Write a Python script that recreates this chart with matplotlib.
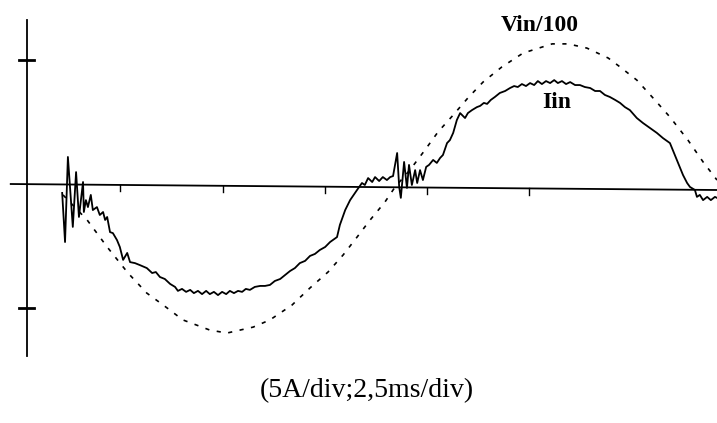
import matplotlib
matplotlib.use("Agg")
import matplotlib.pyplot as plt

# ---- data (time in ms, values in A; 5 A/div, 2.5 ms/div)
iin_t = [1.08, 1.15, 1.22, 1.34, 1.42, 1.49, 1.59, 1.61, 1.66, 1.71, 1.78, 1.83, 1.93, 2.00,
         2.08, 2.13, 2.18, 2.25, 2.32, 2.42, 2.49, 2.57, 2.67, 2.74, 2.86, 2.98, 3.15, 3.28,
         3.37, 3.47, 3.59, 3.72, 3.84, 3.91, 4.01, 4.11, 4.21, 4.30, 4.40, 4.50, 4.60, 4.69,
         4.79, 4.89, 4.99, 5.09, 5.18, 5.28, 5.38, 5.48, 5.57, 5.67, 5.79, 5.92, 6.04, 6.16,
         6.28, 6.41, 6.53, 6.65, 6.77, 6.89, 7.02, 7.14, 7.26, 7.38, 7.51, 7.63, 7.80, 7.87,
         8.00, 8.12, 8.29, 8.41, 8.48, 8.56, 8.66, 8.73, 8.83, 8.92, 9.02, 9.10, 9.17, 9.27,
         9.32, 9.36, 9.44, 9.51, 9.56, 9.63, 9.71, 9.76, 9.83, 9.90, 9.98, 10.05, 10.15, 10.24,
         10.32, 10.39, 10.49, 10.56, 10.64, 10.73, 10.81, 10.93, 11.00, 11.10, 11.22, 11.30,
         11.39, 11.47, 11.56, 11.66, 11.78, 11.91, 12.03, 12.13, 12.22, 12.32, 12.42, 12.52,
         12.62, 12.71, 12.81, 12.91, 13.01, 13.11, 13.20, 13.30, 13.40, 13.50, 13.62, 13.74,
         13.86, 13.99, 14.11, 14.23, 14.35, 14.47, 14.60, 14.72, 14.84, 14.96, 15.13, 15.28,
         15.45, 15.62, 15.77, 15.94, 16.01, 16.11, 16.19, 16.26, 16.36, 16.43, 16.55, 16.60,
         16.67, 16.75, 16.85, 16.94, 17.04, 17.09]
iin_a = [-0.36, -2.34, 1.09, -1.73, 0.48, -1.33, 0.08, -1.13, -0.65, -0.93, -0.44, -1.05, -0.93,
         -1.25, -1.13, -1.45, -1.33, -1.94, -1.98, -2.26, -2.54, -3.06, -2.78, -3.15, -3.19,
         -3.27, -3.39, -3.59, -3.55, -3.75, -3.83, -4.03, -4.15, -4.31, -4.23, -4.35, -4.27,
         -4.40, -4.31, -4.44, -4.31, -4.44, -4.35, -4.48, -4.35, -4.44, -4.31, -4.40, -4.31,
         -4.35, -4.23, -4.27, -4.15, -4.11, -4.11, -4.07, -3.91, -3.83, -3.67, -3.51, -3.39,
         -3.19, -3.10, -2.90, -2.82, -2.66, -2.54, -2.34, -2.14, -1.65, -1.05, -0.65, -0.24,
         0.04, -0.04, 0.24, 0.08, 0.28, 0.12, 0.28, 0.16, 0.28, 0.32, 1.25, -0.12, -0.56, 0.89,
         -0.16, 0.77, -0.04, 0.56, 0.04, 0.56, 0.16, 0.69, 0.77, 0.97, 0.85, 1.05, 1.17, 1.65,
         1.77, 2.06, 2.58, 2.86, 2.66, 2.86, 2.98, 3.10, 3.15, 3.27, 3.23, 3.39, 3.51, 3.67,
         3.75, 3.87, 3.95, 3.91, 4.03, 3.95, 4.07, 3.99, 4.15, 4.03, 4.15, 4.07, 4.19, 4.07,
         4.15, 4.03, 4.11, 3.99, 3.99, 3.91, 3.87, 3.75, 3.75, 3.59, 3.51, 3.39, 3.27, 3.10,
         2.98, 2.66, 2.46, 2.26, 2.06, 1.85, 1.65, 1.37, 0.97, 0.65, 0.36, 0.04, -0.12, -0.24,
         -0.52, -0.44, -0.65, -0.52, -0.65, -0.52, -0.56]

vin_t = [1.10, 1.69, 2.18, 2.69, 3.15, 3.55, 4.03, 4.69, 5.11, 5.75, 6.16, 6.70, 7.14, 7.58,
         7.95, 8.29, 8.61, 8.97, 9.22, 9.58, 9.95, 10.27, 10.64, 11.00, 11.37, 11.83, 12.35,
         13.06, 13.45, 13.91, 14.43, 14.72, 15.13, 15.57, 15.94, 16.38, 16.75, 17.09]
vin_over_100 = [-0.44, -1.45, -2.54, -3.59, -4.40, -4.88, -5.48, -5.89, -6.01, -5.77, -5.48,
                -4.88, -4.19, -3.55, -2.86, -2.14, -1.45, -0.73, -0.12, 0.56, 1.37, 2.10,
                2.78, 3.47, 4.11, 4.72, 5.28, 5.65, 5.65, 5.48, 5.08, 4.72, 4.19, 3.39,
                2.70, 1.77, 0.89, 0.16]

x_ticks_ms = [2.5, 5.0, 7.5, 10.0, 12.5]
y_ticks_a = [-5.0, 5.0]
label_vin = "Vin/100"
label_iin = "Iin"
caption = "(5A/div;2,5ms/div)"

# ---- layout (pixel mapping: x_px = 18 + 40.9*t, y_px = 184 - 24.8*I)
fig = plt.figure(figsize=(7.17, 4.23), dpi=100)
ax = fig.add_axes([0, 0, 1, 1])
ax.set_xlim(-18 / 40.9, 699 / 40.9)
ax.set_ylim((184 - 423) / 24.8, 184 / 24.8)
ax.axis("off")

y_axis_t = 0.22
tilt = -0.014
t_left = -0.2
t_right = 699 / 40.9

# zero (time) axis, slightly tilted as on the scan
ax.plot([t_left, t_right], [0, tilt * (t_right - t_left)], color="black", lw=1.3,
        solid_capstyle="butt")
for xt in x_ticks_ms:
    yb = tilt * (xt - t_left)
    ax.plot([xt, xt], [yb, yb - 0.25], color="black", lw=1.0)

# vertical axis
ax.plot([y_axis_t, y_axis_t], [-6.94, 6.61], color="black", lw=1.3)
for yt in y_ticks_a:
    ax.plot([y_axis_t - 0.19, y_axis_t + 0.17], [yt, yt], color="black", lw=2.0)

# traces
ax.plot(vin_t, vin_over_100, color="black", lw=1.2, linestyle=(0, (2.5, 4.5)))
ax.plot(iin_t, iin_a, color="black", lw=1.3)

serif = ["Liberation Serif", "DejaVu Serif"]
ax.text(12.76, 6.41, label_vin, ha="center", va="center", fontsize=17, fontweight="bold",
        family=serif)
ax.text(13.18, 3.27, label_iin, ha="center", va="center", fontsize=17, fontweight="bold",
        family=serif)
fig.text(367 / 717, 1 - 391 / 423, caption, ha="center", va="center", fontsize=20,
         family=serif)

fig.savefig("out.png", dpi=100, facecolor="white")
